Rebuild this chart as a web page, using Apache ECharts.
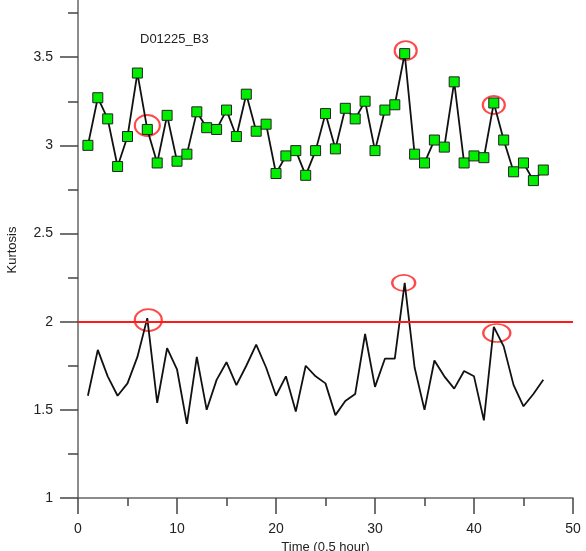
<!DOCTYPE html>
<html>
<head>
<meta charset="utf-8">
<script src="https://cdn.jsdelivr.net/npm/echarts@6/dist/echarts.min.js"></script>
<style>
  html, body { margin: 0; padding: 0; background: #fff; }
  #chart { width: 586px; height: 551px; }
</style>
</head>
<body>
<div id="chart"></div>
<script>
// Sample index, one reading every half hour
const timeSteps = Array.from({ length: 47 }, (_, i) => i + 1);

// Kurtosis of the upper trace (square markers)
const kurtosisUpper = [
  3.00, 3.27, 3.15, 2.88, 3.05, 3.41, 3.09, 2.90, 3.17, 2.91,
  2.95, 3.19, 3.10, 3.09, 3.20, 3.05, 3.29, 3.08, 3.12, 2.84,
  2.94, 2.97, 2.83, 2.97, 3.18, 2.98, 3.21, 3.15, 3.25, 2.97,
  3.20, 3.23, 3.52, 2.95, 2.90, 3.03, 2.99, 3.36, 2.90, 2.94,
  2.93, 3.24, 3.03, 2.85, 2.90, 2.80, 2.86
];

// Kurtosis of the lower trace (plain line)
const kurtosisLower = [
  1.58, 1.84, 1.69, 1.58, 1.65, 1.80, 2.02, 1.54, 1.85, 1.73,
  1.42, 1.80, 1.50, 1.67, 1.77, 1.64, 1.75, 1.87, 1.74, 1.58,
  1.69, 1.49, 1.75, 1.69, 1.65, 1.47, 1.55, 1.59, 1.93, 1.63,
  1.79, 1.79, 2.22, 1.74, 1.50, 1.78, 1.69, 1.62, 1.72, 1.69,
  1.44, 1.97, 1.86, 1.64, 1.52, 1.59, 1.67
];

// Alarm threshold
const threshold = 2;

// Time steps whose peaks are circled on both traces
const flaggedSteps = [7, 33, 42];

// Axis tick labels
const xTicks = [0, 10, 20, 30, 40, 50];
const yTicks = [1, 1.5, 2, 2.5, 3, 3.5];

const FONT = '"Liberation Sans", Arial, sans-serif';
const AXIS_COLOR = '#666';

const pairs = (values) => timeSteps.map((t, i) => [t, values[i]]);

// Ellipse outlines around the flagged points (size / nudge per mark)
const ringStyleUpper = [
  { size: [25, 21], offset: [0, -4] },
  { size: [22, 19], offset: [1, -3] },
  { size: [22, 18], offset: [0, 2] }
];
const ringStyleLower = [
  { size: [27, 22], offset: [1, 2] },
  { size: [23, 16], offset: [-1, 0] },
  { size: [27, 18], offset: [3, 6] }
];
const rings = (values, styles) => flaggedSteps.map((t, k) => ({
  value: [t, values[timeSteps.indexOf(t)]],
  symbolSize: styles[k].size,
  symbolOffset: styles[k].offset
}));

const ringSeries = (values, styles) => ({
  type: 'scatter',
  data: rings(values, styles),
  symbol: 'circle',
  z: 1,
  silent: true,
  itemStyle: { color: 'rgba(0,0,0,0)', borderColor: '#ff1a1a', borderWidth: 2 }
});

const chart = echarts.init(document.getElementById('chart'), null, { renderer: 'canvas' });

chart.setOption({
  animation: false,
  backgroundColor: '#ffffff',
  textStyle: { fontFamily: FONT },
  title: {
    text: 'D01225_B3',
    left: 135,
    top: 28,
    textStyle: { fontSize: 13, fontWeight: 'normal', color: '#222', fontFamily: FONT }
  },
  graphic: [{
    type: 'text',
    x: 12,
    y: 250,
    rotation: Math.PI / 2,
    style: {
      text: 'Kurtosis',
      font: '13px ' + FONT,
      fill: '#222',
      textAlign: 'center',
      textVerticalAlign: 'middle'
    }
  }],
  grid: {
    left: 78, right: 13, top: -31, bottom: 53,
    containLabel: false,
    outerBoundsMode: 'none'
  },
  xAxis: {
    type: 'value',
    min: xTicks[0],
    max: xTicks[xTicks.length - 1],
    interval: xTicks[1] - xTicks[0],
    name: 'Time (0.5 hour)',
    nameLocation: 'middle',
    nameGap: 38,
    nameTextStyle: { fontSize: 13, color: '#222', fontFamily: FONT },
    axisLine: { onZero: false, lineStyle: { color: AXIS_COLOR, width: 1.5 } },
    axisTick: { length: 16, lineStyle: { color: '#444', width: 1.5 } },
    minorTick: { show: true, splitNumber: 2, length: 8, lineStyle: { color: '#444', width: 1.5 } },
    axisLabel: { margin: 24, fontSize: 14, color: '#222', fontFamily: FONT },
    splitLine: { show: false },
    minorSplitLine: { show: false }
  },
  yAxis: {
    type: 'value',
    min: yTicks[0],
    max: 4,
    interval: yTicks[1] - yTicks[0],
    axisLine: { show: true, lineStyle: { color: AXIS_COLOR, width: 1.5 } },
    axisTick: { show: true, length: 18, lineStyle: { color: '#444', width: 1.5 } },
    minorTick: { show: true, splitNumber: 2, length: 10, lineStyle: { color: '#444', width: 1.5 } },
    axisLabel: {
      margin: 25,
      fontSize: 14,
      color: '#222',
      fontFamily: FONT,
      formatter: (v) => (yTicks.includes(v) ? String(v) : '')
    },
    splitLine: { show: false },
    minorSplitLine: { show: false }
  },
  series: [
    ringSeries(kurtosisUpper, ringStyleUpper),
    ringSeries(kurtosisLower, ringStyleLower),
    {
      type: 'line',
      data: pairs(kurtosisLower),
      showSymbol: false,
      z: 2,
      lineStyle: { color: '#111', width: 1.8 },
      markLine: {
        silent: true,
        symbol: 'none',
        label: { show: false },
        lineStyle: { color: '#ff1a1a', width: 2, type: 'solid' },
        data: [{ yAxis: threshold }]
      }
    },
    {
      type: 'line',
      data: pairs(kurtosisUpper),
      symbol: 'rect',
      symbolSize: 10,
      showAllSymbol: true,
      z: 3,
      lineStyle: { color: '#111', width: 1.8 },
      itemStyle: { color: '#00ee00', borderColor: '#222', borderWidth: 1 }
    }
  ]
});
</script>
</body>
</html>
